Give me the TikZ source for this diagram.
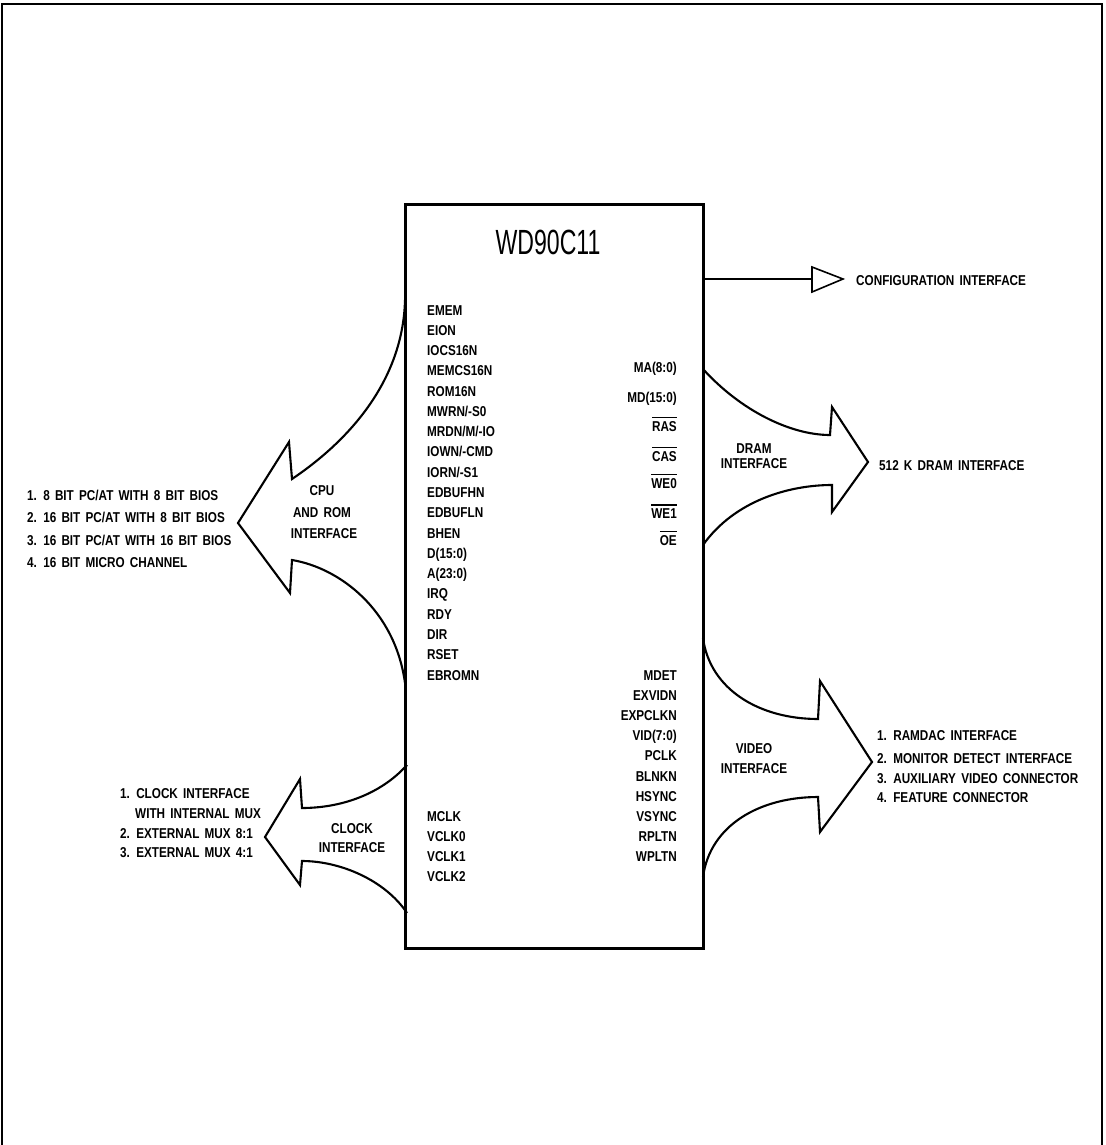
\documentclass[tikz,border=0pt]{standalone}
\usepackage{fontspec}
\setmainfont{Liberation Sans}[FakeStretch=0.82, WordSpace=1.6]
\newfontfamily\titlefont{Liberation Sans}[FakeStretch=0.66]
\newcommand\pinbar[1]{\leavevmode\vbox{\hrule height 1.4pt \kern 2.6pt \hbox{#1}}}
\begin{document}
\begin{tikzpicture}[x=1pt,y=-1pt,
  txt/.style={font=\fontsize{14.3}{16}\selectfont\bfseries, inner sep=0pt},
  lpin/.style={txt, anchor=base west},
  rpin/.style={txt, anchor=base east},
  ctr/.style={txt, anchor=base},
  fatarrow/.style={draw, line width=2.1pt, fill=white, line join=miter},
  thin/.style={draw, line width=1.6pt}]
\useasboundingbox (0,0) rectangle (1105,1145);
% outer frame
\draw[line width=2.2pt] (2,1145) -- (2,4) -- (1102,4) -- (1102,1145);

% CPU and ROM arrow
\path[fatarrow] (405,300) .. controls (403,380) and (350,440) .. (292,479)
  -- (289,442) -- (238,523) -- (290,593) -- (292,560)
  .. controls (340,568) and (395,610) .. (405,683);
% clock arrow
\path[fatarrow] (407,765) .. controls (380,795) and (340,808) .. (302,808)
  -- (300,779) -- (265,837) -- (300,885) -- (302,861)
  .. controls (340,861) and (385,880) .. (407,913);
% DRAM arrow
\path[fatarrow] (703,369) .. controls (740,410) and (790,435) .. (830,435)
  -- (832,407) -- (868,462) -- (832,512) -- (832,485)
  .. controls (790,485) and (735,500) .. (703,545);
% video arrow
\path[fatarrow] (703,638) .. controls (710,690) and (760,719) .. (818,719)
  -- (820,681) -- (872,762) -- (820,832) -- (818,797)
  .. controls (760,797) and (710,825) .. (703,877);

% chip
\node[draw, line width=2.6pt, minimum width=298pt, minimum height=744pt,
  inner sep=0pt, anchor=north west] (chip) at (404,203) {};
\node[font=\fontsize{35}{40}\selectfont\titlefont, inner sep=0pt, anchor=base]
  (title) at (548,254) {WD90C11};

% configuration interface
\coordinate (cfgbase) at (812,279);
\draw[thin] (chip.east |- cfgbase) -- (cfgbase);
\draw[thin, line join=miter] (812,267) -- (843,279) -- (812,292) -- cycle;
\node[lpin] (cfg) at (856,285) {CONFIGURATION INTERFACE};

% left pins
\foreach \t [count=\i from 0] in {EMEM,EION,IOCS16N,MEMCS16N,ROM16N,MWRN/-S0,%
  MRDN/M/-IO,IOWN/-CMD,IORN/-S1,EDBUFHN,EDBUFLN,BHEN,D(15:0),A(23:0),IRQ,RDY,%
  DIR,RSET,EBROMN}
  \node[lpin] (lp\i) at (427,{315+20.28*\i}) {\t};
% clock pins
\foreach \t [count=\i from 0] in {MCLK,VCLK0,VCLK1,VCLK2}
  \node[lpin] (cp\i) at (427,{821+20.3*\i}) {\t};
% right upper pins
\node[rpin] (ma) at (677,372) {MA(8:0)};
\node[rpin] (md) at (677,402) {MD(15:0)};
\node[rpin] (ras) at (677,431) {\pinbar{RAS}};
\node[rpin] (cas) at (677,461) {\pinbar{CAS}};
\node[rpin] (we0) at (677,488) {\pinbar{WE0}};
\node[rpin] (we1) at (677,518) {\pinbar{WE1}};
\node[rpin] (oe) at (677,545) {\pinbar{OE}};
% right lower pins
\foreach \t [count=\i from 0] in {MDET,EXVIDN,EXPCLKN,VID(7:0),PCLK,BLNKN,HSYNC,VSYNC,RPLTN,WPLTN}
  \node[rpin] (vp\i) at (677,{680+20.2*\i}) {\t};

% arrow labels
\node[ctr] (cpu1) at (322,495) {CPU};
\node[ctr] (cpu2) at (322,517) {AND ROM};
\node[ctr] (cpu3) at (324,538) {INTERFACE};
\node[ctr] (clk1) at (352,833) {CLOCK};
\node[ctr] (clk2) at (352,852) {INTERFACE};
\node[ctr] (dram1) at (754,453) {DRAM};
\node[ctr] (dram2) at (754,468) {INTERFACE};
\node[ctr] (vid1) at (754,753) {VIDEO};
\node[ctr] (vid2) at (754,773) {INTERFACE};

% destination lists
\node[lpin] (bus1) at (27,500) {1. 8 BIT PC/AT WITH 8 BIT BIOS};
\node[lpin] (bus2) at (27,522) {2. 16 BIT PC/AT WITH 8 BIT BIOS};
\node[lpin] (bus3) at (27,545) {3. 16 BIT PC/AT WITH 16 BIT BIOS};
\node[lpin] (bus4) at (27,567) {4. 16 BIT MICRO CHANNEL};
\node[lpin] (cl1) at (120,798) {1. CLOCK INTERFACE};
\node[lpin] (cl1b) at (135,818) {WITH INTERNAL MUX};
\node[lpin] (cl2) at (120,838) {2. EXTERNAL MUX 8:1};
\node[lpin] (cl3) at (120,857) {3. EXTERNAL MUX 4:1};
\node[lpin] (dram) at (879,470) {512 K DRAM INTERFACE};
\node[lpin] (v1) at (877,740) {1. RAMDAC INTERFACE};
\node[lpin] (v2) at (877,763) {2. MONITOR DETECT INTERFACE};
\node[lpin] (v3) at (877,783) {3. AUXILIARY VIDEO CONNECTOR};
\node[lpin] (v4) at (877,802) {4. FEATURE CONNECTOR};
\end{tikzpicture}
\end{document}
